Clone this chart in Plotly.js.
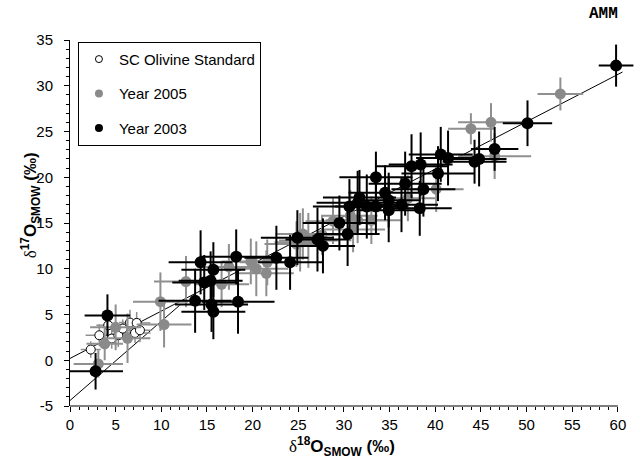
<!DOCTYPE html>
<html>
<head>
<meta charset="utf-8">
<script src="https://cdn.plot.ly/plotly-3.0.1.min.js"></script>
<style>html,body{margin:0;padding:0;background:#fff;}#chart{width:644px;height:464px;}</style>
</head>
<body>
<div id="chart"></div>
<script>
// SC Olivine Standard
const olivX  = [2.27, 3.21, 4.19, 4.57, 5.29, 5.77, 6.57, 7.30, 7.12, 7.66];
const olivY  = [1.17, 2.73, 3.83, 2.37, 2.73, 3.46, 4.12, 4.08, 2.98, 3.28];
const olivEx = [1.1, 1.5, 1.3, 1.6, 1.4, 1.8, 1.2, 1.5, 1.7, 1.3];
const olivEy = [0.9, 1.2, 1.5, 1.1, 1.3, 1.0, 1.4, 1.2, 1.1, 1.3];

// Year 2005
const y05X  = [3.1, 3.8, 5.0, 6.3, 9.9, 10.3, 12.7, 16.6, 17.4, 19.8, 20.4, 21.6, 21.5, 24.8, 25.5, 26.1, 27.6, 28.8, 31.0, 30.7, 31.5, 33.0, 37.0, 40.1, 43.9, 46.1, 46.5, 53.7, 25.2];
const y05Y  = [-0.4, 1.8, 3.6, 2.4, 6.4, 3.9, 8.6, 8.3, 10.2, 10.8, 10.0, 10.7, 9.5, 12.7, 13.8, 13.1, 13.7, 15.2, 14.3, 15.8, 15.3, 15.3, 17.7, 18.7, 25.3, 26.0, 22.3, 29.1, 12.9];
const y05Ex = [2.7, 2.0, 2.8, 2.5, 3.0, 3.0, 3.5, 3.0, 3.5, 3.2, 3.5, 3.0, 3.0, 3.5, 3.0, 3.2, 3.0, 3.0, 3.5, 3.0, 3.5, 3.2, 3.0, 3.0, 2.5, 3.6, 4.0, 2.5, 2.8];
const y05Ey = [1.5, 1.8, 2.5, 2.7, 3.2, 2.5, 2.8, 2.5, 2.5, 2.5, 3.0, 2.5, 2.5, 2.5, 2.8, 3.0, 2.2, 2.5, 2.5, 2.8, 2.5, 2.6, 2.5, 2.5, 1.7, 2.1, 2.5, 1.8, 3.2];

// Year 2003
const y03X  = [2.8, 4.1, 13.7, 14.3, 14.7, 15.4, 15.5, 15.7, 15.7, 18.2, 18.4, 22.6, 24.1, 24.9, 27.1, 27.7, 29.5, 30.4, 30.6, 31.5, 31.7, 32.5, 33.5, 33.5, 34.5, 34.9, 34.9, 36.3, 36.7, 37.4, 38.4, 38.3, 38.7, 40.3, 40.6, 41.4, 44.3, 44.8, 46.5, 50.1, 59.8];
const y03Y  = [-1.2, 4.9, 6.5, 10.7, 8.5, 8.7, 6.1, 5.3, 9.9, 11.3, 6.4, 11.2, 10.7, 13.4, 13.2, 12.5, 15.0, 13.8, 16.8, 17.2, 17.8, 16.8, 20.0, 16.8, 18.3, 17.5, 16.4, 17.0, 19.3, 21.2, 21.4, 16.6, 18.7, 20.4, 22.5, 22.1, 21.7, 22.0, 23.1, 25.9, 32.2];
const y03Ex = [3.0, 2.5, 4.0, 3.5, 3.5, 3.5, 4.0, 3.5, 3.5, 4.0, 4.0, 3.5, 3.5, 4.0, 3.5, 3.5, 4.0, 3.5, 4.0, 4.5, 4.0, 3.5, 4.0, 3.5, 4.0, 3.5, 3.5, 4.0, 4.0, 4.0, 3.5, 3.5, 3.5, 4.0, 3.5, 3.5, 3.5, 3.0, 2.6, 2.7, 1.9];
const y03Ey = [2.0, 2.3, 3.5, 3.5, 3.0, 3.2, 3.0, 3.0, 3.0, 3.0, 3.5, 3.5, 3.0, 3.0, 3.5, 3.0, 3.0, 3.5, 3.0, 3.5, 3.0, 3.5, 2.8, 3.0, 3.0, 3.0, 3.5, 3.0, 3.5, 3.5, 3.5, 3.0, 3.0, 3.0, 3.0, 3.0, 2.4, 3.0, 2.4, 2.5, 2.3];

// reference lines
const tflX = [0, 60.5];
const tflY = [0.2, 31.5];
const ccX  = [0, 12];
const ccY  = [-4.4, 6.0];

// tick labels
const xTicks = [0, 5, 10, 15, 20, 25, 30, 35, 40, 45, 50, 55, 60];
const yTicks = [-5, 0, 5, 10, 15, 20, 25, 30, 35];
const xMinor = []; for (let v = 0; v <= 60; v++) if (v % 5) xMinor.push(v);
const yMinor = []; for (let v = -5; v <= 35; v++) if (v % 5) yMinor.push(v);

const GRAY = '#8a8a8a';
const EGRAY = '#8f8f8f';

const traces = [
  {x: tflX, y: tflY, mode: 'lines', line: {color: '#000', width: 1}, showlegend: false, hoverinfo: 'skip'},
  {x: ccX, y: ccY, mode: 'lines', line: {color: '#000', width: 1}, showlegend: false, hoverinfo: 'skip'},
  {x: olivX, y: olivY, mode: 'markers', showlegend: false,
   marker: {size: 9, color: '#fff', line: {color: '#000', width: 1}},
   error_x: {type: 'data', array: olivEx, color: EGRAY, thickness: 1.5, width: 0},
   error_y: {type: 'data', array: olivEy, color: EGRAY, thickness: 1.5, width: 0}},
  {x: y05X, y: y05Y, mode: 'markers', showlegend: false,
   marker: {size: 11, color: GRAY},
   error_x: {type: 'data', array: y05Ex, color: EGRAY, thickness: 2, width: 0},
   error_y: {type: 'data', array: y05Ey, color: EGRAY, thickness: 2, width: 0}},
  {x: y03X, y: y03Y, mode: 'markers', showlegend: false,
   marker: {size: 12, color: '#000'},
   error_x: {type: 'data', array: y03Ex, color: '#000', thickness: 2, width: 0},
   error_y: {type: 'data', array: y03Ey, color: '#000', thickness: 2, width: 0}},
  // legend entries
  {x: [null], y: [null], mode: 'markers', name: 'SC Olivine Standard', legendgroup: 'a',
   marker: {size: 7, color: '#fff', line: {color: '#000', width: 1}}},
  {x: [null], y: [null], mode: 'markers', name: 'Year 2005', legendgroup: 'b',
   marker: {size: 8, color: GRAY}},
  {x: [null], y: [null], mode: 'markers', name: 'Year 2003', legendgroup: 'c',
   marker: {size: 8, color: '#000'}}
];

const tickFont = {family: 'Liberation Sans, Arial, sans-serif', size: 15, color: '#000'};
const titleFont = {family: 'Liberation Sans, Arial, sans-serif', size: 17, color: '#000'};

const layout = {
  width: 644, height: 464,
  margin: {l: 70, r: 6, t: 40, b: 58},
  paper_bgcolor: '#fff', plot_bgcolor: '#fff',
  showlegend: true,
  legend: {x: 0.014, y: 0.995, xanchor: 'left', yanchor: 'top',
           bgcolor: '#fff', bordercolor: '#000', borderwidth: 1,
           font: {family: 'Liberation Sans, Arial, sans-serif', size: 15, color: '#000'},
           traceorder: 'grouped', tracegroupgap: 12, itemwidth: 30},
  xaxis: {range: [0, 62.2], showline: false, zeroline: false, showgrid: false,
          tickmode: 'array', tickvals: xTicks, ticktext: xTicks.map(String),
          ticks: 'outside', ticklen: 5, tickcolor: '#000', tickwidth: 1,
          tickfont: tickFont,
          minor: {tickmode: 'array', tickvals: xMinor, ticks: 'outside', ticklen: 3, tickcolor: '#000', tickwidth: 1}},
  yaxis: {range: [-5, 35], showline: true, linecolor: '#000', linewidth: 1, zeroline: false, showgrid: false,
          tickmode: 'array', tickvals: yTicks, ticktext: yTicks.map(String),
          ticks: 'outside', ticklen: 5, tickcolor: '#000', tickwidth: 1,
          tickfont: tickFont, ticklabelstandoff: 8,
          minor: {tickmode: 'array', tickvals: yMinor, ticks: 'outside', ticklen: 3, tickcolor: '#000', tickwidth: 1}},
  shapes: [
    {type: 'line', xref: 'x', yref: 'paper', x0: 0, x1: 60, y0: 0, y1: 0, line: {color: '#000', width: 1}}
  ],
  annotations: [
    {xref: 'paper', yref: 'paper', x: 0.479, y: -0.112, xanchor: 'center', yanchor: 'middle', showarrow: false,
     font: titleFont,
     text: '<span style="font-family:Liberation Serif, Times New Roman, serif;">δ</span><b><sup>18</sup>O<sub>SMOW</sub> (‰)</b>'},
    {xref: 'paper', yref: 'paper', x: -0.07, y: 0.549, xanchor: 'center', yanchor: 'middle', showarrow: false,
     textangle: -90, font: titleFont,
     text: '<span style="font-family:Liberation Serif, Times New Roman, serif;">δ</span><b><sup>17</sup>O<sub>SMOW</sub> (‰)</b>'},
    {xref: 'paper', yref: 'paper', x: 0.94, y: 1.071, xanchor: 'center', yanchor: 'middle', showarrow: false,
     font: {family: 'Liberation Mono, Courier New, monospace', size: 16, color: '#000'},
     text: '<b>AMM</b>'}
  ]
};

Plotly.newPlot('chart', traces, layout, {displayModeBar: false, staticPlot: true});
</script>
</body>
</html>
